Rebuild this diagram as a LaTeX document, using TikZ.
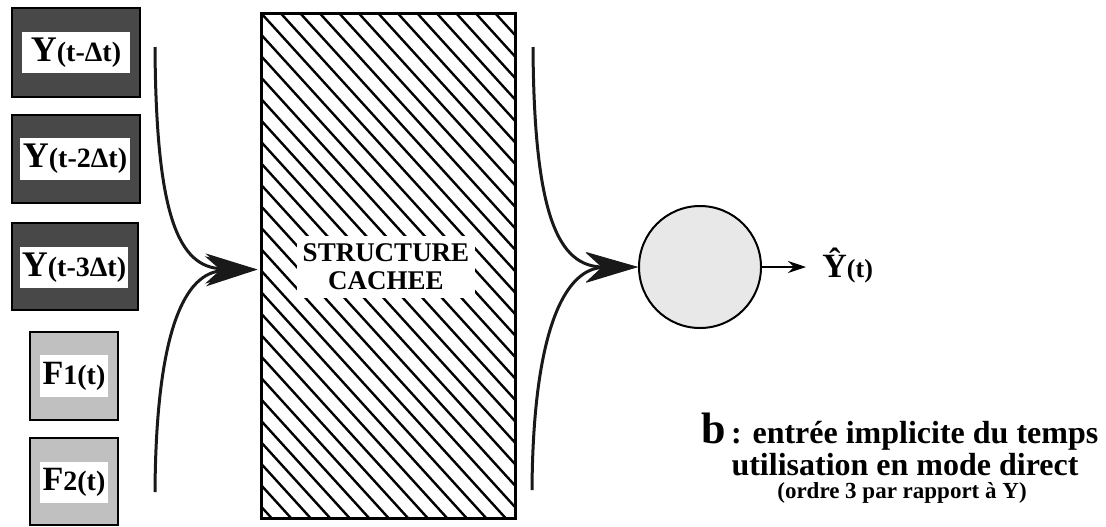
\documentclass[tikz,border=0pt]{standalone}
\usepackage{fontspec}
\setmainfont{Liberation Serif}
\usetikzlibrary{arrows.meta}
\definecolor{darkfill}{RGB}{72,72,72}
\definecolor{lightfill}{RGB}{192,192,192}
\definecolor{circfill}{RGB}{232,232,232}
\newcommand{\lagY}[1]{{\fontsize{18}{18}\selectfont Y}{\fontsize{14}{14}\selectfont(#1)}}
\newcommand{\forceF}[1]{{\fontsize{17}{17}\selectfont F}{\fontsize{14}{14}\selectfont #1(t)}}
\begin{document}
\begin{tikzpicture}[x=0.5pt,y=-0.5pt,font=\bfseries,
  darkbox/.style={draw=black,line width=1.2pt,fill=darkfill,inner sep=0pt},
  lightbox/.style={draw=black,line width=1.2pt,fill=lightfill,inner sep=0pt},
  whitelab/.style={fill=white,inner sep=0pt},
  curve/.style={line width=1.5pt,draw=black!90,-{Stealth[length=26pt,width=15pt,inset=8pt]}},
  hatched/.style={draw=black,line width=1.5pt,inner sep=0pt,
    path picture={\foreach \i in {-25,...,14}
      \draw[line width=1.2pt] ([xshift=\i*9.75pt]path picture bounding box.north west) -- ++(229.5pt,-252.5pt);}},
  neuron/.style={circle,draw=black,line width=1pt,fill=circfill,minimum size=61pt,inner sep=0pt}
]
\useasboundingbox (0,0) rectangle (1106,526);

% input boxes
\node[darkbox,minimum width=64pt,minimum height=44.5pt] (b1) at (76,52.5) {};
\node[whitelab,minimum width=54pt,minimum height=20.5pt] (l1) at (76,52.5) {\lagY{t-\char"0394t}};
\node[darkbox,minimum width=64pt,minimum height=44pt] (b2) at (76,159) {};
\node[whitelab,minimum width=55pt,minimum height=21pt] (l2) at (75,159) {\lagY{t-2\char"0394t}};
\node[darkbox,minimum width=63pt,minimum height=43.5pt] (b3) at (75,266.5) {};
\node[whitelab,minimum width=54pt,minimum height=20.5pt] (l3) at (74,267.5) {\lagY{t-3\char"0394t}};
\node[lightbox,minimum width=44pt,minimum height=44pt] (b4) at (74,376) {};
\node[whitelab,minimum width=34pt,minimum height=21pt] (l4) at (74,376) {\forceF{1}};
\node[lightbox,minimum width=44pt,minimum height=43.5pt] (b5) at (74,481.5) {};
\node[whitelab,minimum width=34pt,minimum height=20.5pt] (l5) at (74,482.5) {\forceF{2}};

% hidden structure
\node[hatched,minimum width=127pt,minimum height=252.5pt] (hid) at (388,265.5) {};
\node[fill=white,inner xsep=3pt,inner ysep=4pt,align=center,
  font=\bfseries\fontsize{13.5}{14}\selectfont] (hidtxt) at (386,267) {STRUCTURE\\CACHEE};

% output neuron
\node[neuron] (out) at (700,267) {};
\node[anchor=base west,inner sep=0pt] (yhat) at (822,277)
  {{\fontsize{17}{17}\selectfont\^{Y}}{\fontsize{13}{13}\selectfont(t)}};

% connectors
\coordinate (sL1) at (155,47);
\coordinate (sL2) at (155,492);
\coordinate (sR1) at (533,47);
\coordinate (sR2) at (532,490);
\draw[curve,shorten >=1pt] (sL1) .. controls (156,215) and (178,268) .. ([yshift=-2pt]hid.west);
\draw[curve,shorten >=1pt] (sL2) .. controls (156,330) and (185,272) .. ([yshift=-2pt]hid.west);
\draw[curve] (sR1) .. controls (534,215) and (558,267) .. (out.west);
\draw[curve] (sR2) .. controls (533,330) and (565,268) .. (out.west);
\draw[line width=1pt,-{Stealth[length=9pt,width=6pt]},shorten >=8pt] (out.east) -- (out.east -| yhat.west);

% caption
\node[anchor=base,inner sep=0pt] (cap1) at (900,443)
  {{\fontsize{22}{22}\selectfont b} {\fontsize{16}{16}\selectfont : entrée implicite du temps}};
\node[anchor=base,inner sep=0pt] (cap2) at (905,475)
  {\fontsize{16}{16}\selectfont utilisation en mode direct};
\node[anchor=base,inner sep=0pt] (cap3) at (902,498)
  {\fontsize{11.5}{11.5}\selectfont (ordre 3 par rapport à Y)};
\end{tikzpicture}
\end{document}
